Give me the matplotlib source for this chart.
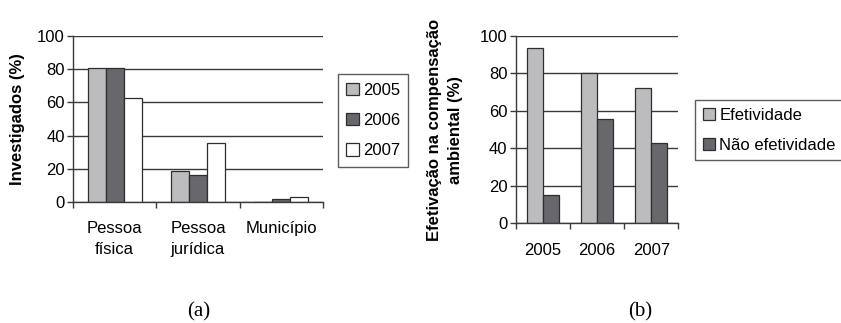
import matplotlib
matplotlib.use("Agg")
import matplotlib.pyplot as plt
import numpy as np

plt.rcParams["font.family"] = ["Liberation Sans", "DejaVu Sans"]

# (a) share of those investigated, by type of offender and year
cats_a = ["Pessoa\nfísica", "Pessoa\njurídica", "Município"]
years = ["2005", "2006", "2007"]
inv_2005 = [81, 18.5, 0]
inv_2006 = [81, 16.5, 2]
inv_2007 = [62.5, 35.5, 3]

# (b) effectiveness of environmental compensation, by year
cats_b = ["2005", "2006", "2007"]
efetividade = [93.5, 80.5, 72]
nao_efetividade = [15, 55.5, 43]

light = "#bcbcbe"
dark = "#68686c"
white = "#ffffff"
edge = "#2e2e2e"
grid_c = "#3a3a3a"
FS = 12

W, H = 841, 323
fig = plt.figure(figsize=(W / 100, H / 100), dpi=100)


def px_axes(x0, y0, x1, y1):
    return fig.add_axes([x0 / W, 1 - y1 / H, (x1 - x0) / W, (y1 - y0) / H])


def style(ax, ncat):
    ax.set_ylim(0, 100)
    ax.set_xlim(-0.5, ncat - 0.5)
    ax.set_yticks(np.arange(0, 101, 20))
    ax.yaxis.grid(True, color=grid_c, linewidth=1.0)
    ax.set_axisbelow(True)
    for s in ("top", "right"):
        ax.spines[s].set_visible(False)
    for s in ("left", "bottom"):
        ax.spines[s].set_color(grid_c)
        ax.spines[s].set_linewidth(1.0)
    ax.set_xticks(np.arange(-0.5, ncat, 1.0))
    ax.set_xticklabels([])
    ax.tick_params(axis="x", which="major", length=4, width=1, color=grid_c)
    ax.tick_params(axis="y", length=4, width=1, color=grid_c, pad=2,
                   labelsize=FS)
    ax.set_xticks(np.arange(ncat), minor=True)
    ax.tick_params(axis="x", which="minor", length=0, pad=14, labelsize=FS)


def legend(ax, x0, y0, pad):
    ax.legend(loc="upper left", bbox_to_anchor=(x0 / W, 1 - y0 / H),
              bbox_transform=fig.transFigure, fontsize=FS, frameon=True,
              fancybox=False, edgecolor="#333333", handlelength=0.75,
              handleheight=0.75, handletextpad=0.25, labelspacing=0.92,
              borderpad=pad, borderaxespad=0)


# ---- panel (a)
ax1 = px_axes(73, 36, 323, 202)
x = np.arange(len(cats_a))
bw = 0.215
for off, vals, col, lab in zip((-bw, 0, bw), (inv_2005, inv_2006, inv_2007),
                               (light, dark, white), years):
    ax1.bar(x + off, vals, bw, color=col, edgecolor=edge, linewidth=0.9,
            label=lab)
style(ax1, len(cats_a))
ax1.set_xticklabels(cats_a, minor=True, linespacing=1.45, va="top")
fig.text(18 / W, 1 - 119 / H, "Investigados (%)", rotation=90, ha="center",
         va="center", fontsize=FS, fontweight="bold")
legend(ax1, 338, 74.3, 0.5)

# ---- panel (b)
ax2 = px_axes(515.7, 36, 678.3, 223.3)
x = np.arange(len(cats_b))
bw = 0.29
ax2.bar(x - bw / 2, efetividade, bw, color=light, edgecolor=edge,
        linewidth=0.9, label="Efetividade")
ax2.bar(x + bw / 2, nao_efetividade, bw, color=dark, edgecolor=edge,
        linewidth=0.9, label="Não efetividade")
style(ax2, len(cats_b))
ax2.set_xticklabels(cats_b, minor=True)
fig.text(445 / W, 1 - 130 / H, "Efetivação na compensação\nambiental (%)",
         rotation=90, ha="center", va="center", fontsize=FS,
         fontweight="bold", linespacing=1.45, multialignment="center")
legend(ax2, 695.3, 100, 0.45)

# ---- panel captions
fig.text(198.5 / W, 1 - 312 / H, "(a)", ha="center", va="center",
         family="Liberation Serif", fontsize=15)
fig.text(640 / W, 1 - 312 / H, "(b)", ha="center", va="center",
         family="Liberation Serif", fontsize=15)

fig.savefig("out.png", dpi=100)
